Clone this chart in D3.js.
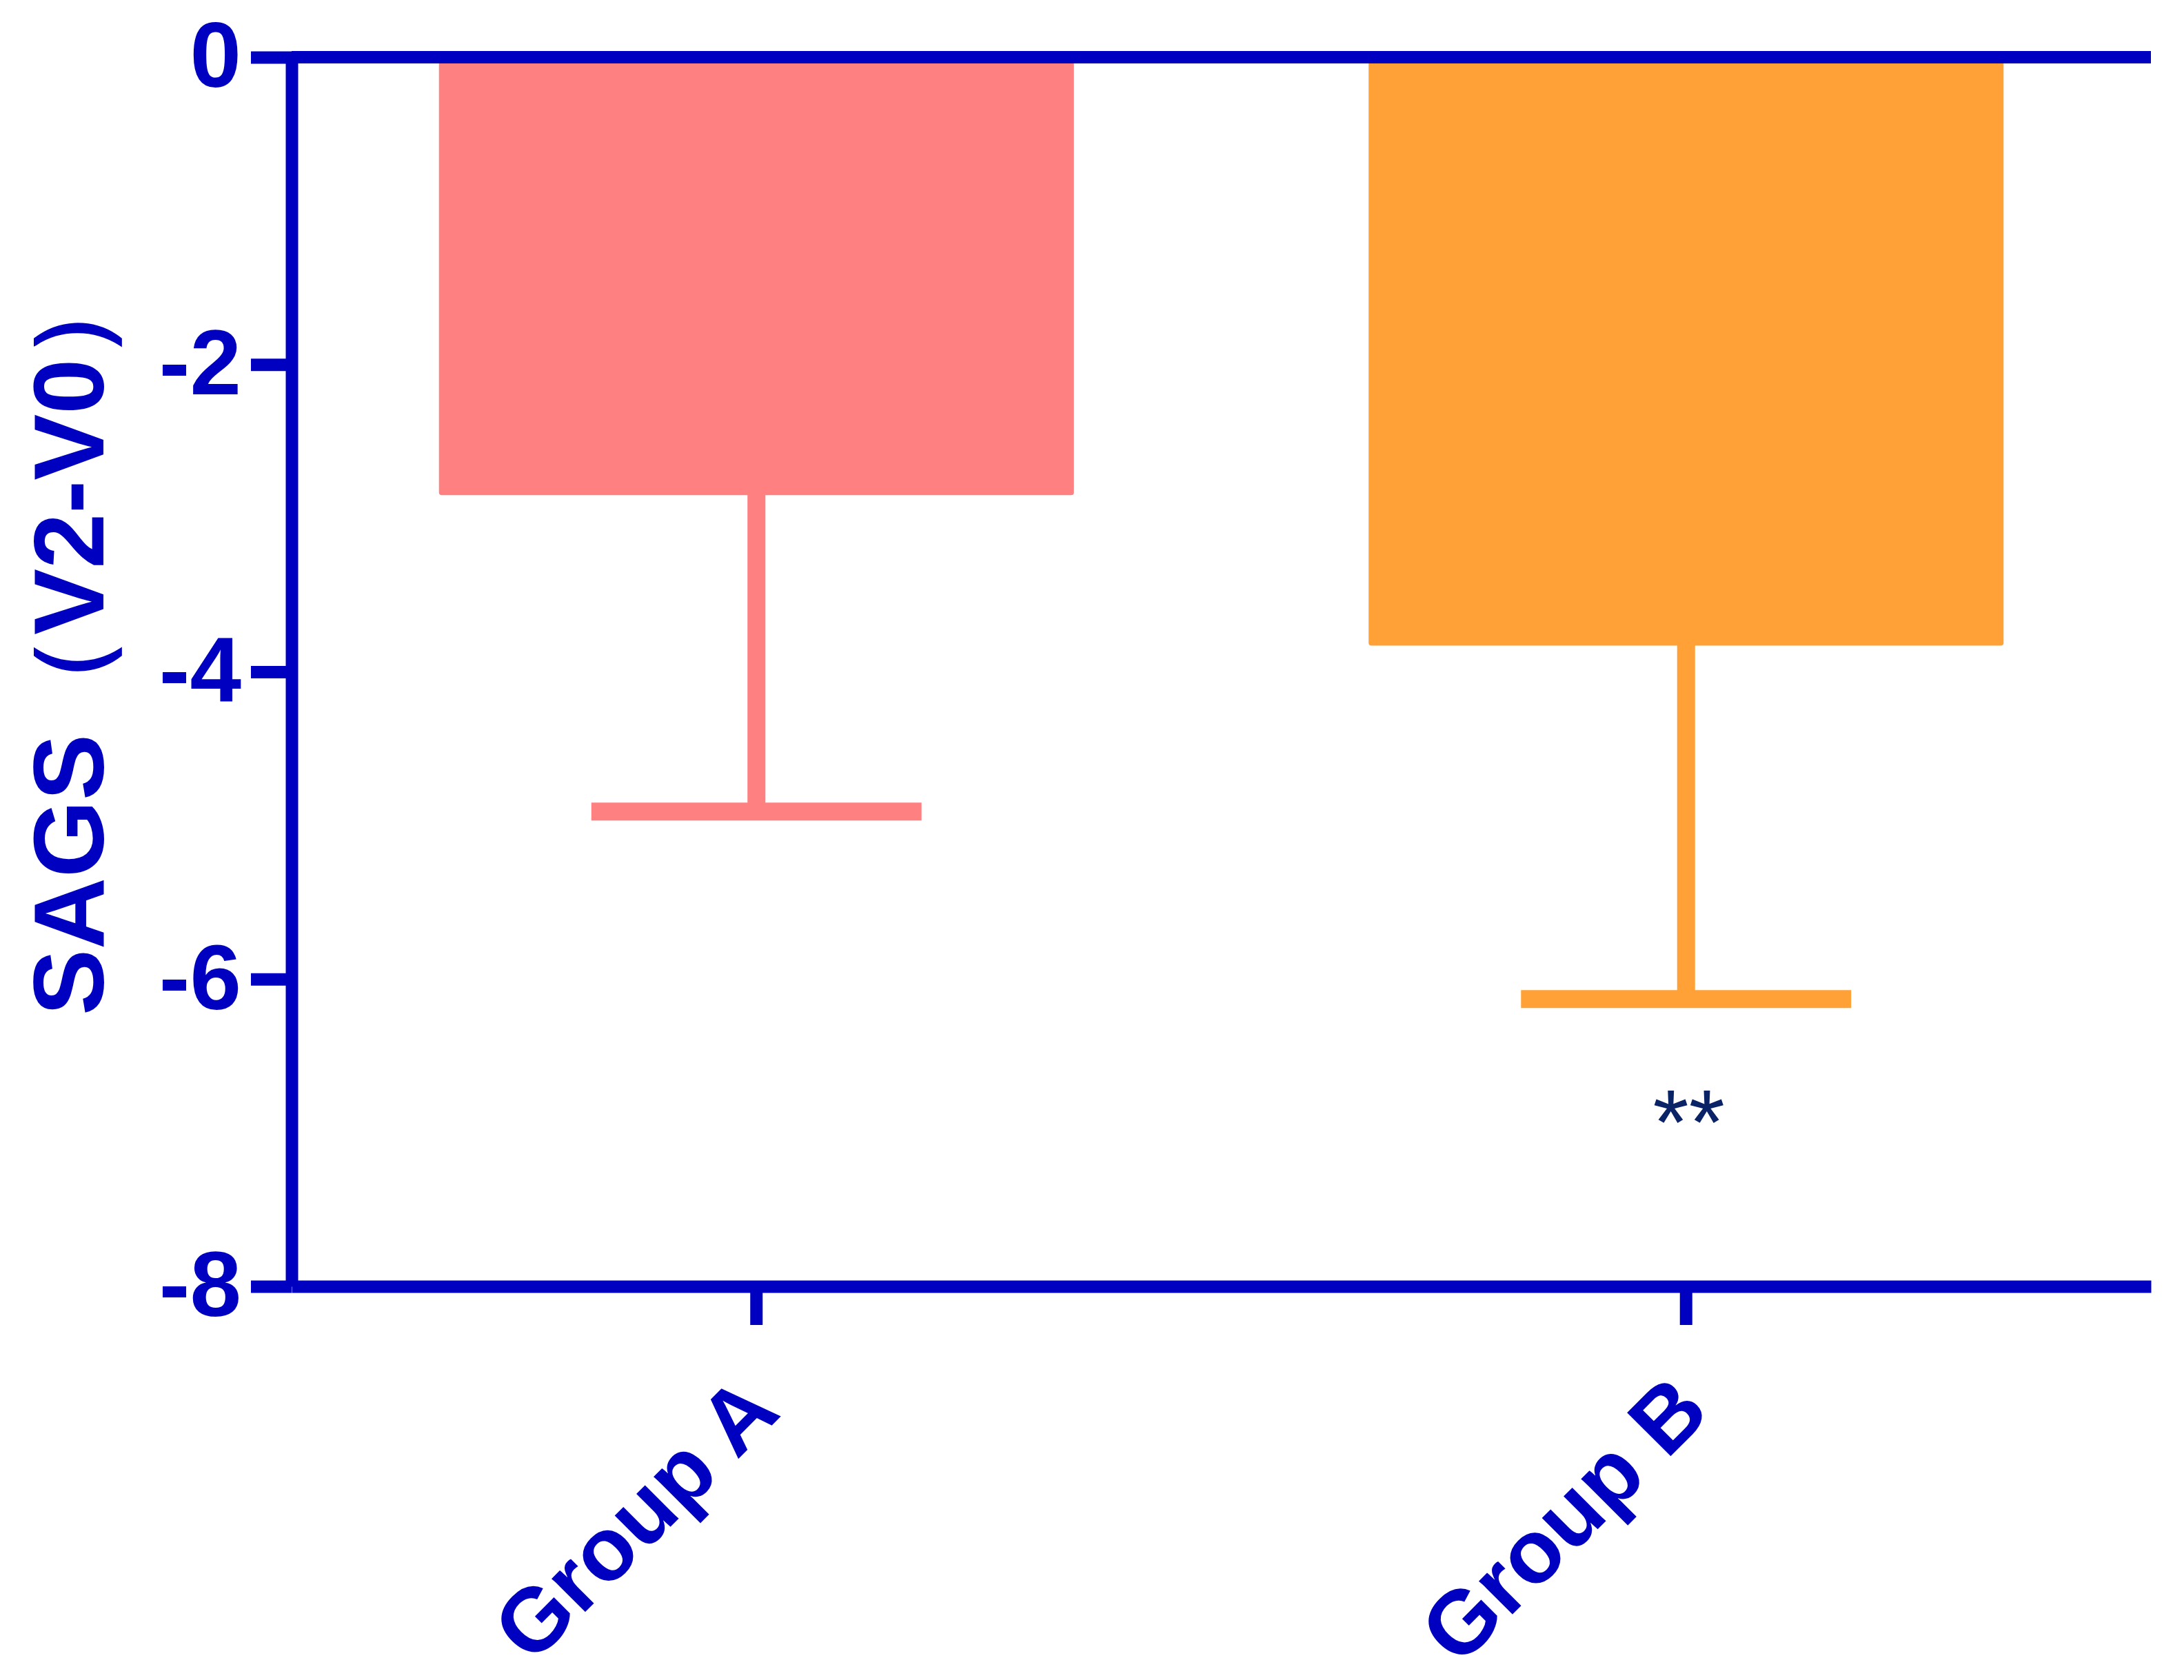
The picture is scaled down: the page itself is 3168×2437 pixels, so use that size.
<!DOCTYPE html>
<html>
<head>
<meta charset="utf-8">
<script src="https://cdn.jsdelivr.net/npm/d3@7"></script>
<style>
  body { margin: 0; background: #fff; }
  text { font-family: Arial, "Liberation Sans", sans-serif; }
</style>
</head>
<body>
<div id="chart"></div>
<script>
// Chart data
const groups = ["Group A", "Group B"];
const means = [-2.85, -3.83];
const sds = [2.06, 2.30];
const barColors = ["#FF8080", "#FFA136"];
const yTicks = [0, -2, -4, -6, -8];
const sigLabels = ["", "**"];
const sigValues = [null, -7.14];

const W = 3168, H = 2437;
const axisColor = "#0000C0";
const margin = { top: 83, right: 48, bottom: 571, left: 423 };
const width = W - margin.left - margin.right,
      height = H - margin.top - margin.bottom;

const svg = d3.select("#chart").append("svg")
    .attr("width", W)
    .attr("height", H);

const g = svg.append("g")
    .attr("transform", `translate(${margin.left},${margin.top})`);

// Scales
const x = d3.scaleBand()
    .domain(groups)
    .range([0, width])
    .paddingInner(0.317)
    .paddingOuter(0.1585);

const y = d3.scaleLinear()
    .domain([-8, 0])
    .range([height, 0]);

const data = groups.map((name, i) => ({
  name, mean: means[i], sd: sds[i], color: barColors[i],
  sig: sigLabels[i], sigY: sigValues[i]
}));

// Bars
g.selectAll(".bar")
  .data(data)
  .enter().append("rect")
    .attr("class", "bar")
    .attr("x", d => x(d.name))
    .attr("width", x.bandwidth())
    .attr("y", y(0))
    .attr("height", d => y(d.mean) - y(0))
    .attr("rx", 4)
    .attr("fill", d => d.color);

// Error bars (downwards)
const capW = x.bandwidth() * 0.52;
g.selectAll(".err-stem")
  .data(data)
  .enter().append("line")
    .attr("x1", d => x(d.name) + x.bandwidth() / 2)
    .attr("x2", d => x(d.name) + x.bandwidth() / 2)
    .attr("y1", d => y(d.mean) - 2)
    .attr("y2", d => y(d.mean - d.sd))
    .attr("stroke", d => d.color)
    .attr("stroke-width", 26);

g.selectAll(".err-cap")
  .data(data)
  .enter().append("line")
    .attr("x1", d => x(d.name) + x.bandwidth() / 2 - capW / 2)
    .attr("x2", d => x(d.name) + x.bandwidth() / 2 + capW / 2)
    .attr("y1", d => y(d.mean - d.sd))
    .attr("y2", d => y(d.mean - d.sd))
    .attr("stroke", d => d.color)
    .attr("stroke-width", 26);

// Significance marks
g.selectAll(".sig")
  .data(data.filter(d => d.sig))
  .enter().append("text")
    .attr("x", d => x(d.name) + x.bandwidth() / 2 + 4)
    .attr("y", d => y(d.sigY))
    .attr("text-anchor", "middle")
    .style("font-size", "134px")
    .style("fill", "#0A2266")
    .text(d => d.sig);

// Y axis
const yAxis = d3.axisLeft(y)
    .tickValues(yTicks)
    .tickFormat(d => String(d))
    .tickSize(59)
    .tickSizeOuter(0)
    .tickPadding(14);

const yg = g.append("g").call(yAxis);
yg.select(".domain").attr("stroke", axisColor).attr("stroke-width", 18);
yg.selectAll(".tick line").attr("stroke", axisColor).attr("stroke-width", 18);
yg.selectAll(".tick text")
    .attr("fill", axisColor)
    .style("font-size", "134px")
    .style("font-weight", "bold");

// Zero line along the top
g.append("line")
    .attr("x1", 0)
    .attr("x2", width)
    .attr("y1", y(0))
    .attr("y2", y(0))
    .attr("stroke", axisColor)
    .attr("stroke-width", 18);

// X axis at the bottom
const xAxis = d3.axisBottom(x)
    .tickSize(56)
    .tickSizeOuter(0)
    .tickFormat("");

const xg = g.append("g")
    .attr("transform", `translate(0,${height})`)
    .call(xAxis);
xg.select(".domain").attr("stroke", axisColor).attr("stroke-width", 18);
xg.selectAll(".tick line").attr("stroke", axisColor).attr("stroke-width", 18);

// Rotated category labels
g.selectAll(".xlabel")
  .data(groups)
  .enter().append("text")
    .attr("class", "xlabel")
    .attr("transform", d => `translate(${x(d) + x.bandwidth() / 2 + 38},${height + 186}) rotate(-45)`)
    .attr("text-anchor", "end")
    .attr("fill", axisColor)
    .style("font-size", "130px")
    .style("font-weight", "bold")
    .text(d => d);

// Y axis title
svg.append("text")
    .attr("transform", `translate(150,1473) rotate(-90)`)
    .attr("text-anchor", "start")
    .attr("fill", axisColor)
    .style("font-size", "144px")
    .style("font-weight", "bold")
    .text("SAGS（V2-V0）");
</script>
</body>
</html>
